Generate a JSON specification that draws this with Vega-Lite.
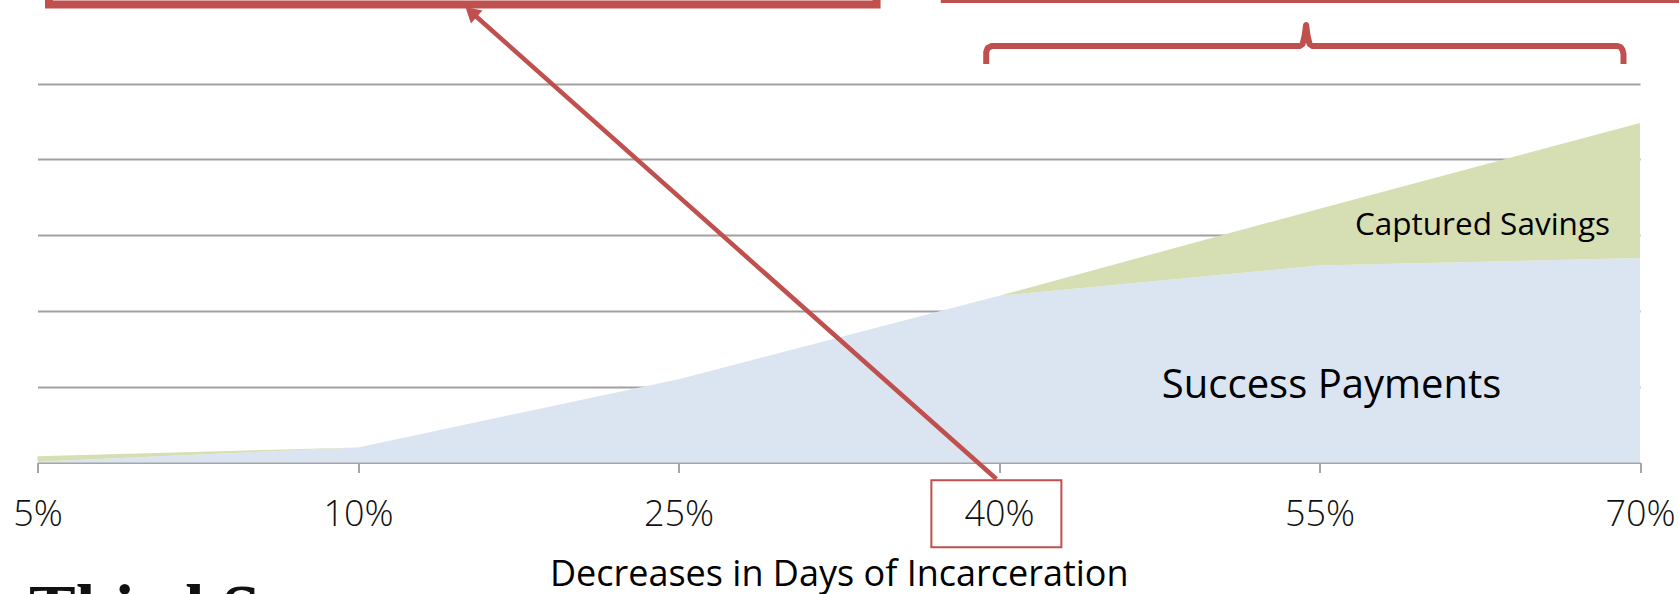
{
  "$schema": "https://vega.github.io/schema/vega-lite/v6.json",
  "autosize": "none",
  "width": 1602.5,
  "height": 462.6,
  "padding": {"left": 37.5, "right": 39, "top": 0, "bottom": 131.4},
  "background": "white",
  "config": {"view": {"stroke": null}},
  "datasets": {
    "areas": [
      {"pct": "5%", "i": 0, "series": "Success Payments", "ord": 0, "value": 0.01},
      {"pct": "10%", "i": 1, "series": "Success Payments", "ord": 0, "value": 0.2},
      {"pct": "25%", "i": 2, "series": "Success Payments", "ord": 0, "value": 1.1},
      {"pct": "40%", "i": 3, "series": "Success Payments", "ord": 0, "value": 2.2},
      {"pct": "55%", "i": 4, "series": "Success Payments", "ord": 0, "value": 2.6},
      {"pct": "70%", "i": 5, "series": "Success Payments", "ord": 0, "value": 2.7},
      {"pct": "5%", "i": 0, "series": "Captured Savings", "ord": 1, "value": 0.075},
      {"pct": "10%", "i": 1, "series": "Captured Savings", "ord": 1, "value": 0},
      {"pct": "25%", "i": 2, "series": "Captured Savings", "ord": 1, "value": 0},
      {"pct": "40%", "i": 3, "series": "Captured Savings", "ord": 1, "value": 0},
      {"pct": "55%", "i": 4, "series": "Captured Savings", "ord": 1, "value": 0.75},
      {"pct": "70%", "i": 5, "series": "Captured Savings", "ord": 1, "value": 1.78}
    ],
    "boxes": [
      {"name": "top-left", "i": 0.0359, "i2": 2.618, "value": 6.044, "value2": 7.5, "w": 8},
      {"name": "top-right", "i": 2.8276, "i2": 5.4, "value": 6.103, "value2": 7.5, "w": 6},
      {"name": "40%", "i": 2.789, "i2": 3.1946, "value": -0.2335, "value2": -1.1174, "w": 2}
    ],
    "arrow": [
      {"o": 0, "i": 2.9919, "value": -0.2164},
      {"o": 1, "i": 1.3528, "value": 5.9446}
    ],
    "arrowhead": [
      {"i": 1.3528, "value": 5.9446}
    ],
    "bracket": [
      {"o": 0, "i": 2.9601, "value": 5.2586},
      {"o": 1, "i": 2.9601, "value": 5.4169},
      {"o": 2, "i": 2.9647, "value": 5.4697},
      {"o": 3, "i": 2.9772, "value": 5.4960},
      {"o": 4, "i": 3.9379, "value": 5.4960},
      {"o": 5, "i": 3.9473, "value": 5.5224},
      {"o": 6, "i": 3.9535, "value": 5.6280},
      {"o": 7, "i": 3.9582, "value": 5.7731},
      {"o": 8, "i": 3.9629, "value": 5.6280},
      {"o": 9, "i": 3.9691, "value": 5.5224},
      {"o": 10, "i": 3.9785, "value": 5.4960},
      {"o": 11, "i": 4.9298, "value": 5.4960},
      {"o": 12, "i": 4.9392, "value": 5.4828},
      {"o": 13, "i": 4.9454, "value": 5.4433},
      {"o": 14, "i": 4.9485, "value": 5.3905},
      {"o": 15, "i": 4.9485, "value": 5.2586}
    ],
    "texts": [
      {"text": "Success Payments", "i": 4.0377, "value": 0.856, "kind": "big"},
      {"text": "Captured Savings", "i": 4.5085, "value": 3.0026, "kind": "small"}
    ],
    "footer": [
      {"text": "Third S", "i": -0.0265, "value": -2.25}
    ]
  },
  "layer": [
    {
      "data": {"name": "areas"},
      "mark": {"type": "area", "interpolate": "linear"},
      "encoding": {
        "x": {
          "field": "i", "type": "quantitative",
          "scale": {"domain": [0, 5], "nice": false, "zero": false},
          "axis": {
            "values": [0, 1, 2, 3, 4, 5],
            "labelExpr": "['5%','10%','25%','40%','55%','70%'][datum.value]",
            "labelFont": "Open Sans", "labelFontWeight": 300, "labelFontSize": 36,
            "labelColor": "#111111", "labelFlush": false, "labelOverlap": false, "labelBound": false,
            "labelBaseline": "alphabetic", "labelPadding": 53,
            "tickSize": 10, "tickColor": "#A6A6A6", "tickWidth": 2,
            "domainColor": "#A6A6A6", "domainWidth": 2, "grid": false,
            "title": "Decreases in Days of Incarceration",
            "titleFont": "Open Sans", "titleFontSize": 36, "titleFontWeight": "normal",
            "titleColor": "#000000", "titleBaseline": "alphabetic", "titleY": 122.4
          }
        },
        "y": {
          "field": "value", "type": "quantitative", "stack": "zero",
          "scale": {"domain": [0, 6.103], "nice": false, "zero": true},
          "axis": {
            "values": [1, 2, 3, 4, 5], "grid": true, "gridColor": "#A0A0A0", "gridWidth": 1.8,
            "labels": false, "ticks": false, "domain": false, "title": null
          }
        },
        "color": {
          "field": "series", "type": "nominal",
          "scale": {"domain": ["Success Payments", "Captured Savings"], "range": ["#DBE5F1", "#D5DFB3"]},
          "legend": null
        },
        "order": {"field": "ord", "type": "quantitative"}
      }
    },
    {
      "data": {"name": "texts"},
      "mark": {"type": "text", "font": "Open Sans", "color": "#000000", "align": "center", "baseline": "alphabetic"},
      "encoding": {
        "x": {"field": "i", "type": "quantitative"},
        "y": {"field": "value", "type": "quantitative"},
        "text": {"field": "text"},
        "size": {"field": "kind", "type": "nominal", "scale": {"domain": ["big", "small"], "range": [40, 31.5]}, "legend": null},
        "fontWeight": {"field": "kind", "type": "nominal", "scale": {"domain": ["big", "small"], "range": [300, 400]}, "legend": null}
      }
    },
    {
      "data": {"name": "boxes"},
      "mark": {"type": "rect", "fill": "transparent", "stroke": "#C0504D"},
      "encoding": {
        "x": {"field": "i", "type": "quantitative"},
        "x2": {"field": "i2"},
        "y": {"field": "value", "type": "quantitative"},
        "y2": {"field": "value2"},
        "strokeWidth": {"field": "w", "type": "quantitative", "scale": null}
      }
    },
    {
      "data": {"name": "arrow"},
      "mark": {"type": "line", "color": "#C0504D", "strokeWidth": 4.5},
      "encoding": {
        "x": {"field": "i", "type": "quantitative"},
        "y": {"field": "value", "type": "quantitative"},
        "order": {"field": "o", "type": "quantitative"}
      }
    },
    {
      "data": {"name": "arrowhead"},
      "mark": {"type": "point", "shape": "triangle-up", "filled": true, "color": "#C0504D", "opacity": 1, "size": 300, "angle": 311.7},
      "encoding": {
        "x": {"field": "i", "type": "quantitative"},
        "y": {"field": "value", "type": "quantitative"}
      }
    },
    {
      "data": {"name": "bracket"},
      "mark": {"type": "line", "color": "#C0504D", "strokeWidth": 6, "strokeJoin": "round", "strokeCap": "butt"},
      "encoding": {
        "x": {"field": "i", "type": "quantitative"},
        "y": {"field": "value", "type": "quantitative"},
        "order": {"field": "o", "type": "quantitative"}
      }
    },
    {
      "data": {"name": "footer"},
      "mark": {"type": "text", "font": "Liberation Serif", "fontWeight": "bold", "fontSize": 70, "color": "#111111", "align": "left", "baseline": "alphabetic"},
      "encoding": {
        "x": {"field": "i", "type": "quantitative"},
        "y": {"field": "value", "type": "quantitative"},
        "text": {"field": "text"}
      }
    }
  ]
}
